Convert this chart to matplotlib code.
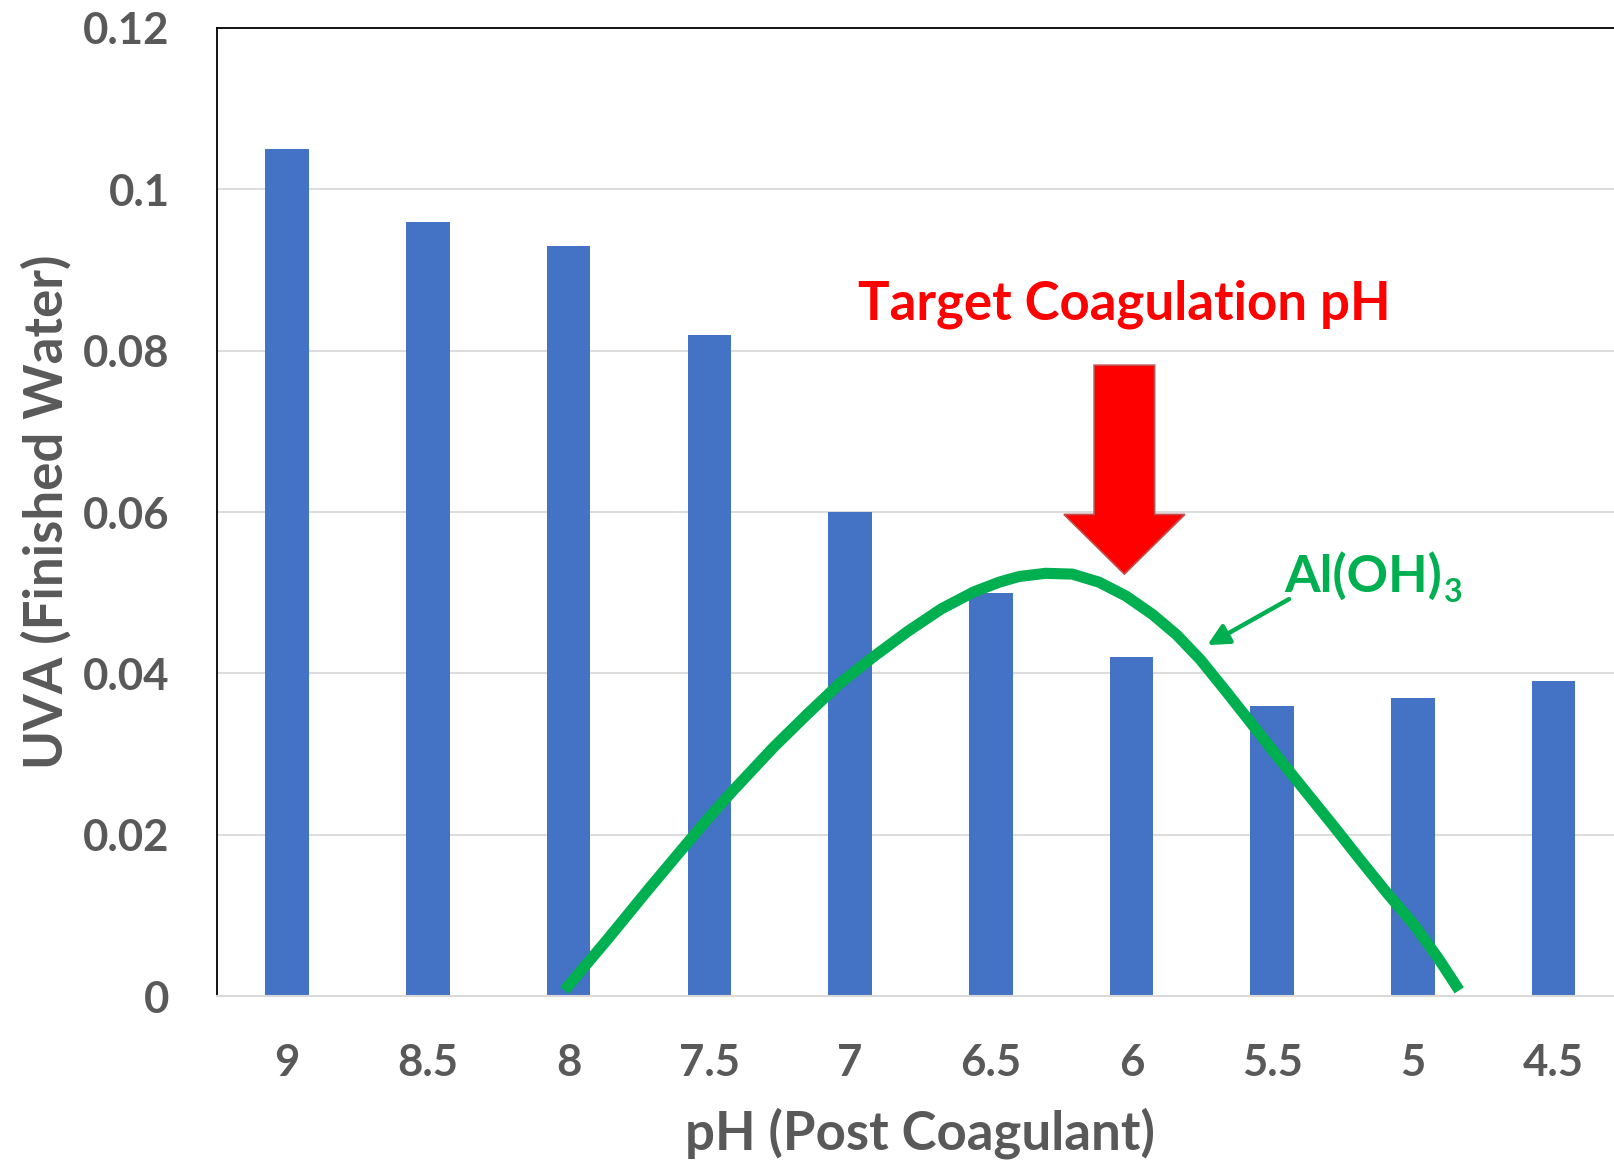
import numpy as np
import matplotlib
matplotlib.use("Agg")
import matplotlib.pyplot as plt
from matplotlib.patches import FancyArrow

plt.rcParams['font.family'] = ['Lato', 'DejaVu Sans']

# finished water UVA at each post-coagulant pH
ph_labels = ['9', '8.5', '8', '7.5', '7', '6.5', '6', '5.5', '5', '4.5']
uva = [0.105, 0.096, 0.093, 0.082, 0.060, 0.050, 0.042, 0.036, 0.037, 0.039]

# Al(OH)3 hump, x in category positions
aloh_x = [1.97, 2.27, 2.58, 2.84, 3.0, 3.17, 3.46, 3.70, 3.93, 4.17, 4.41, 4.65,
          4.88, 5.06, 5.20, 5.39, 5.58, 5.77, 5.96, 6.15, 6.32, 6.49, 6.68, 6.87,
          7.06, 7.25, 7.44, 7.63, 7.82, 8.01, 8.18, 8.33]
aloh_y = [0.0007, 0.0069, 0.0135, 0.0189, 0.0222, 0.0255, 0.0309, 0.0350, 0.0388,
          0.0421, 0.0452, 0.0480, 0.0501, 0.0513, 0.0520, 0.0524, 0.0523, 0.0513,
          0.0496, 0.0473, 0.0448, 0.0417, 0.0376, 0.0334, 0.0292, 0.0251, 0.0210,
          0.0168, 0.0127, 0.0088, 0.0047, 0.0007]

target_pos = 5.95
target_top = 0.0782
target_tip = 0.0523
head_base = 0.0597

grey = '#595959'
green = '#00B050'

fig = plt.figure(figsize=(16.14, 11.61), dpi=100)
ax = fig.add_axes([0.1344, 0.1421, 0.8717, 0.8338])

x = np.arange(len(ph_labels))
ax.bar(x, uva, width=0.31, color='#4472C4', zorder=2)
ax.plot(aloh_x, aloh_y, color=green, lw=8, solid_capstyle='butt',
        solid_joinstyle='round', zorder=3)

ax.set_xlim(-0.5, 9.5)
ax.set_ylim(0, 0.12)
ax.set_yticks([0, 0.02, 0.04, 0.06, 0.08, 0.1, 0.12])
ax.set_yticklabels(['0', '0.02', '0.04', '0.06', '0.08', '0.1', '0.12'])
ax.set_xticks(x)
ax.set_xticklabels(ph_labels)
ax.tick_params(axis='both', length=0, labelsize=31.5, labelcolor=grey)
ax.tick_params(axis='y', pad=34)
ax.tick_params(axis='x', pad=34)
for lab in ax.get_xticklabels() + ax.get_yticklabels():
    lab.set_fontweight('bold')

ax.grid(axis='y', color='#D9D9D9', lw=1.3, zorder=0)
ax.set_axisbelow(True)
ax.spines['top'].set_color('black')
ax.spines['top'].set_linewidth(1.3)
ax.spines['left'].set_color('black')
ax.spines['left'].set_linewidth(1.3)
ax.spines['bottom'].set_color('#D9D9D9')
ax.spines['bottom'].set_linewidth(1.5)
ax.spines['right'].set_visible(False)

ax.set_ylabel('UVA (Finished Water)', fontsize=38, fontweight='bold', color=grey, labelpad=8)
ax.set_xlabel('pH (Post Coagulant)', fontsize=38, fontweight='bold', color=grey, labelpad=17)

# target arrow
ax.add_patch(FancyArrow(target_pos, target_top, 0, target_tip - target_top,
                        width=0.43, head_width=0.86, head_length=head_base - target_tip,
                        length_includes_head=True, facecolor='#FF0000',
                        edgecolor='#C0504D', lw=1.2, zorder=4))
ax.text(target_pos, 0.0858, 'Target Coagulation pH', color='#FF0000', fontsize=38,
        fontweight='bold', ha='center', va='center', zorder=5)

# Al(OH)3 label with its pointer
ax.annotate('', xy=(6.54, 0.0435), xytext=(7.12, 0.0492),
            arrowprops=dict(arrowstyle='-|>', color=green, lw=3.2,
                            mutation_scale=32, shrinkA=0, shrinkB=0), zorder=5)
lbl = ax.text(7.09, 0.0520, 'Al(OH)', color=green, fontsize=37, fontweight='bold',
              ha='left', va='center', zorder=5)
ax.annotate('3', xy=(1, 0), xycoords=lbl, xytext=(1, -4), textcoords='offset points',
            color=green, fontsize=23, fontweight='bold', ha='left', va='bottom', zorder=5)

fig.savefig('out.png', dpi=100)
